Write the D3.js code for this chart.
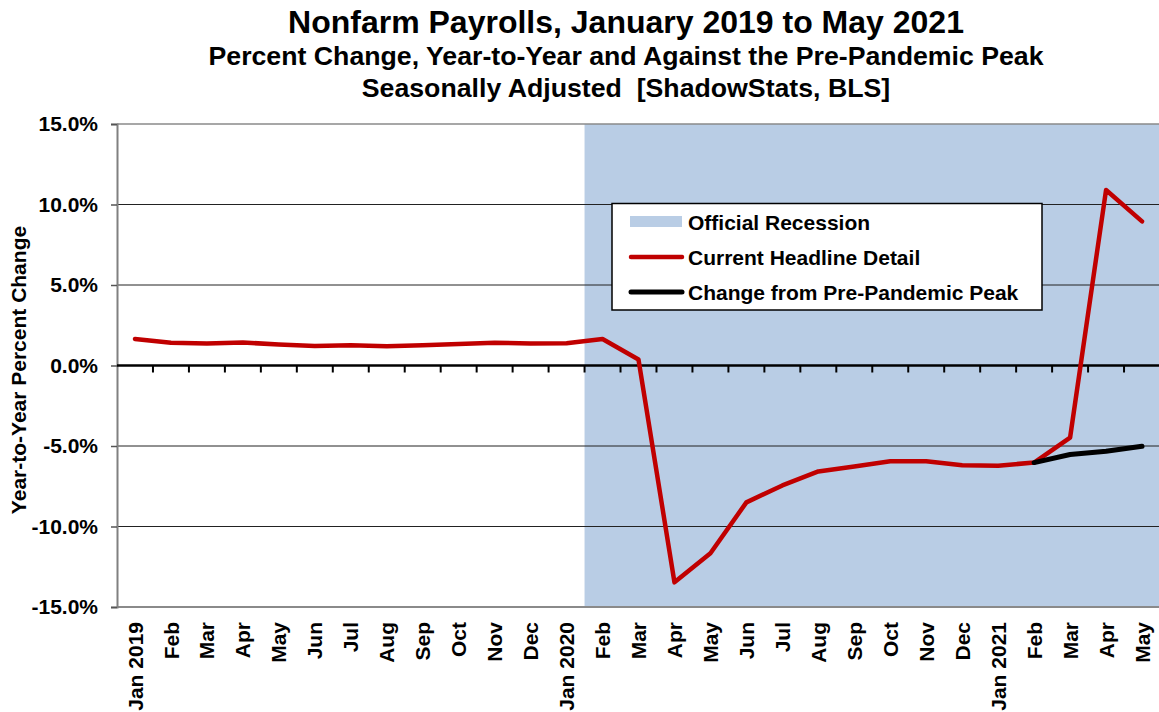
<!DOCTYPE html>
<html>
<head>
<meta charset="utf-8">
<script src="https://cdn.jsdelivr.net/npm/d3@7"></script>
<style>
  html, body { margin: 0; padding: 0; background: #fff; }
  svg { display: block; font-family: "Liberation Sans", Arial, sans-serif; font-weight: bold; }
</style>
</head>
<body>
<svg id="chart" width="1159" height="712"></svg>
<script>
// ---- Data ----
const months = ["2019-01","2019-02","2019-03","2019-04","2019-05","2019-06","2019-07","2019-08","2019-09","2019-10","2019-11","2019-12",
                "2020-01","2020-02","2020-03","2020-04","2020-05","2020-06","2020-07","2020-08","2020-09","2020-10","2020-11","2020-12",
                "2021-01","2021-02","2021-03","2021-04","2021-05"];
const monthLabels = ["Jan 2019","Feb","Mar","Apr","May","Jun","Jul","Aug","Sep","Oct","Nov","Dec",
                     "Jan 2020","Feb","Mar","Apr","May","Jun","Jul","Aug","Sep","Oct","Nov","Dec",
                     "Jan 2021","Feb","Mar","Apr","May"];
// Current Headline Detail, year-to-year percent change
const headline = [1.65,1.41,1.36,1.43,1.30,1.21,1.26,1.19,1.26,1.33,1.42,1.36,
                  1.38,1.65,0.37,-13.47,-11.66,-8.50,-7.45,-6.58,-6.27,-5.95,-5.95,-6.20,
                  -6.22,-6.03,-4.48,10.90,8.95];
// Change from Pre-Pandemic Peak
const peakMonths = ["2021-02","2021-03","2021-04","2021-05"];
const peakChange = [-6.03,-5.53,-5.33,-5.02];
// Official recession span
const recessionStart = "2020-02";
const recessionEnd = "2021-05";
const yTicks = [-15,-10,-5,0,5,10,15];
const legendItems = ["Official Recession","Current Headline Detail","Change from Pre-Pandemic Peak"];
const titleLines = ["Nonfarm Payrolls, January 2019 to May 2021",
                    "Percent Change, Year-to-Year and Against the Pre-Pandemic Peak",
                    "Seasonally Adjusted  [ShadowStats, BLS]"];
const yTitle = "Year-to-Year Percent Change";

// ---- Layout ----
const svg = d3.select("#chart");
const L = 117, R = 1160, T = 124, B = 607;
const x = d3.scaleBand().domain(months).range([L, R]).padding(0);
const y = d3.scaleLinear().domain([-15, 15]).range([B, T]);
const cx = d => x(d) + x.bandwidth() / 2;

// Recession shading
svg.append("rect")
  .attr("x", x(recessionStart))
  .attr("y", T)
  .attr("width", x(recessionEnd) + x.bandwidth() - x(recessionStart))
  .attr("height", B - T)
  .attr("fill", "#B9CDE5");

// Gridlines
svg.append("g").selectAll("line")
  .data(yTicks.filter(v => v !== 0 && Math.abs(v) !== 15))
  .join("line")
  .attr("x1", L).attr("x2", R)
  .attr("y1", d => y(d)).attr("y2", d => y(d))
  .attr("stroke", "#222").attr("stroke-width", 1);

// Top & bottom border
svg.append("line").attr("x1", L).attr("x2", R).attr("y1", y(15)).attr("y2", y(15))
  .attr("stroke", "#8a8a8a").attr("stroke-width", 1.5);
svg.append("line").attr("x1", L).attr("x2", R).attr("y1", y(-15)).attr("y2", y(-15))
  .attr("stroke", "#8a8a8a").attr("stroke-width", 2);

// Left axis
const yAxis = d3.axisLeft(y).tickValues(yTicks).tickSize(6)
  .tickFormat(d => d3.format(".1f")(d).replace("\u2212", "-") + "%");
const gy = svg.append("g").attr("transform", `translate(${L},0)`).call(yAxis);
gy.select(".domain").attr("stroke", "#808080").attr("stroke-width", 2);
gy.selectAll(".tick line").attr("stroke", "#555").attr("stroke-width", 1.5);
gy.selectAll(".tick text")
  .attr("x", -19)
  .attr("font-size", "21px").attr("font-weight", "bold")
  .attr("font-family", "Liberation Sans, Arial, sans-serif")
  .attr("fill", "#000");

// Zero line with ticks at category boundaries
svg.append("line").attr("x1", L).attr("x2", R).attr("y1", y(0)).attr("y2", y(0))
  .attr("stroke", "#000").attr("stroke-width", 2.5);
svg.append("g").selectAll("line")
  .data(months.slice(1))
  .join("line")
  .attr("x1", d => x(d)).attr("x2", d => x(d))
  .attr("y1", y(0)).attr("y2", y(0) + 7)
  .attr("stroke", "#000").attr("stroke-width", 2);

// X labels (rotated, below plot)
svg.append("g").selectAll("text")
  .data(months)
  .join("text")
  .attr("transform", d => `translate(${cx(d)},${B + 15}) rotate(-90)`)
  .attr("text-anchor", "end")
  .attr("dy", "0.36em")
  .attr("font-size", "21px")
  .text((d, i) => monthLabels[i]);

// Lines
const line = d3.line().x(d => cx(d[0])).y(d => y(d[1]));
svg.append("path")
  .datum(months.map((m, i) => [m, headline[i]]))
  .attr("d", line)
  .attr("fill", "none").attr("stroke", "#C00000").attr("stroke-width", 4.5)
  .attr("stroke-linejoin", "round").attr("stroke-linecap", "round");
svg.append("path")
  .datum(peakMonths.map((m, i) => [m, peakChange[i]]))
  .attr("d", line)
  .attr("fill", "none").attr("stroke", "#000").attr("stroke-width", 5)
  .attr("stroke-linejoin", "round").attr("stroke-linecap", "round");

// Legend
const lg = svg.append("g");
lg.append("rect").attr("x", 612).attr("y", 203.5).attr("width", 430).attr("height", 106.5)
  .attr("fill", "#fff").attr("stroke", "#000").attr("stroke-width", 1.5);
const lgY = [222, 257, 292];
lg.append("rect").attr("x", 630).attr("y", 216).attr("width", 52).attr("height", 11).attr("fill", "#B9CDE5");
lg.append("line").attr("x1", 631).attr("x2", 682).attr("y1", lgY[1]).attr("y2", lgY[1])
  .attr("stroke", "#C00000").attr("stroke-width", 4.5).attr("stroke-linecap", "round");
lg.append("line").attr("x1", 631).attr("x2", 682).attr("y1", lgY[2]).attr("y2", lgY[2])
  .attr("stroke", "#000").attr("stroke-width", 5).attr("stroke-linecap", "round");
lg.selectAll("text.lt").data(legendItems).join("text")
  .attr("class", "lt")
  .attr("x", 688).attr("y", (d, i) => lgY[i]).attr("dy", "0.36em")
  .attr("font-size", "21px")
  .text(d => d);

// Y title
svg.append("text")
  .attr("transform", "translate(18,370) rotate(-90)")
  .attr("text-anchor", "middle").attr("dy", "0.36em")
  .attr("font-size", "21px")
  .text(yTitle);

// Titles
const tsz = [32, 26.7, 26.7], tby = [33, 65, 97];
svg.append("g").selectAll("text").data(titleLines).join("text")
  .attr("x", 626).attr("y", (d, i) => tby[i])
  .attr("text-anchor", "middle")
  .attr("font-size", (d, i) => tsz[i] + "px")
  .style("white-space", "pre")
  .text(d => d);
</script>
</body>
</html>
